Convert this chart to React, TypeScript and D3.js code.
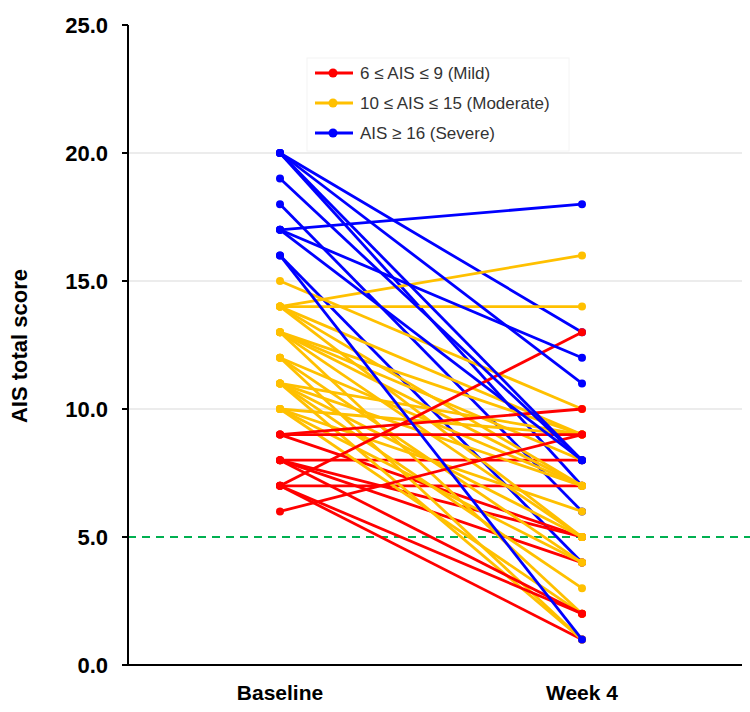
import React from 'react';
import * as d3 from 'd3';

// time points
const timepoints = ['Baseline', 'Week 4'];
const yTicks = [0, 5, 10, 15, 20, 25];

// 6 <= AIS <= 9 (Mild)
const mildBaseline = [9, 8, 8, 7, 7, 8, 9, 9, 8, 7, 7, 6];
const mildWeek4 = [5, 5, 4, 7, 1, 8, 10, 9, 2, 13, 2, 9];

// 10 <= AIS <= 15 (Moderate)
const moderateBaseline = [15, 14, 14, 14, 14, 14, 13, 13, 13, 13, 13, 12, 12, 12, 11, 11, 11, 11, 11, 10, 10, 10, 10];
const moderateWeek4 = [10, 16, 14, 9, 7, 5, 9, 8, 7, 5, 2, 7, 4, 1, 9, 7, 5, 3, 1, 9, 6, 4, 2];

// AIS >= 16 (Severe)
const severeBaseline = [20, 20, 18, 16, 20, 20, 19, 17, 17, 17, 16];
const severeWeek4 = [13, 7, 6, 4, 11, 8, 8, 18, 12, 8, 1];

const groups = [
  { label: '6 ≤ AIS ≤ 9 (Mild)', color: '#ff0000', base: mildBaseline, wk4: mildWeek4 },
  { label: '10 ≤ AIS ≤ 15 (Moderate)', color: '#ffc000', base: moderateBaseline, wk4: moderateWeek4 },
  { label: 'AIS ≥ 16 (Severe)', color: '#0000ff', base: severeBaseline, wk4: severeWeek4 },
];

// plotting order of patients: [group, from, to]
const drawOrder: [number, number, number][] = [
  [2, 0, 4],
  [0, 0, 6],
  [1, 0, 23],
  [0, 6, 12],
  [2, 4, 11],
];

const width = 750;
const height = 712;
const left = 128;
const right = 742;
const top = 25;
const bottom = 665;

export default function App() {
  const y = d3.scaleLinear().domain([0, 25]).range([bottom, top]);
  const x = d3.scalePoint<string>().domain(timepoints).range([280, 582]);
  const fmt = d3.format('.1f');
  const line = d3.line<[number, number]>();
  const x0 = x('Baseline')!;
  const x1 = x('Week 4')!;

  const patients = drawOrder.flatMap(([gi, from, to]) => {
    const g = groups[gi];
    return d3.range(from, to).map(i => ({ key: `${gi}-${i}`, color: g.color, b: g.base[i], w: g.wk4[i] }));
  });

  return (
    <svg
      width={width}
      height={height}
      style={{ position: 'absolute', left: 0, top: 0, fontFamily: 'Arial, "Liberation Sans", sans-serif' }}
    >
      <rect width={width} height={height} fill="#fff" />

      {/* gridlines */}
      {yTicks.filter(t => t > 5 && t < 25).map(t => (
        <line key={t} x1={left} x2={right} y1={y(t)} y2={y(t)} stroke="#d9d9d9" strokeWidth={1} />
      ))}

      {/* threshold */}
      <line x1={left} x2={width} y1={y(5)} y2={y(5)} stroke="#00b050" strokeWidth={2} strokeDasharray="8,6" />

      {/* axes */}
      <line x1={left} x2={left} y1={top} y2={bottom} stroke="#000" strokeWidth={2} />
      <line x1={left} x2={right} y1={bottom} y2={bottom} stroke="#000" strokeWidth={2} />
      {yTicks.map(t => (
        <g key={t}>
          <line x1={left - 6} x2={left} y1={y(t)} y2={y(t)} stroke="#000" strokeWidth={2} />
          <text x={108} y={y(t)} dy="0.36em" textAnchor="end" fontSize={22} fontWeight="bold">
            {fmt(t)}
          </text>
        </g>
      ))}
      {timepoints.map(tp => (
        <text key={tp} x={x(tp)} y={700} textAnchor="middle" fontSize={21} fontWeight="bold">
          {tp}
        </text>
      ))}
      <text transform="translate(27,346) rotate(-90)" textAnchor="middle" fontSize={22} fontWeight="bold">
        AIS total score
      </text>

      {/* patient lines */}
      {patients.map(p => (
        <g key={p.key} fill={p.color}>
          <path d={line([[x0, y(p.b)], [x1, y(p.w)]]) || ''} stroke={p.color} strokeWidth={2.8} fill="none" />
          <circle cx={x0} cy={y(p.b)} r={4} />
          <circle cx={x1} cy={y(p.w)} r={4} />
        </g>
      ))}

      {/* legend */}
      <rect x={307} y={58} width={262} height={93} fill="#fff" stroke="#f4f4f4" />
      {groups.map((g, i) => (
        <g key={g.label} transform={`translate(0,${73 + i * 30})`}>
          <line x1={315} x2={353} stroke={g.color} strokeWidth={2.8} />
          <circle cx={333} r={4.5} fill={g.color} />
          <text x={360} dy="0.36em" fontSize={17} fill="#333">
            {g.label}
          </text>
        </g>
      ))}
    </svg>
  );
}
